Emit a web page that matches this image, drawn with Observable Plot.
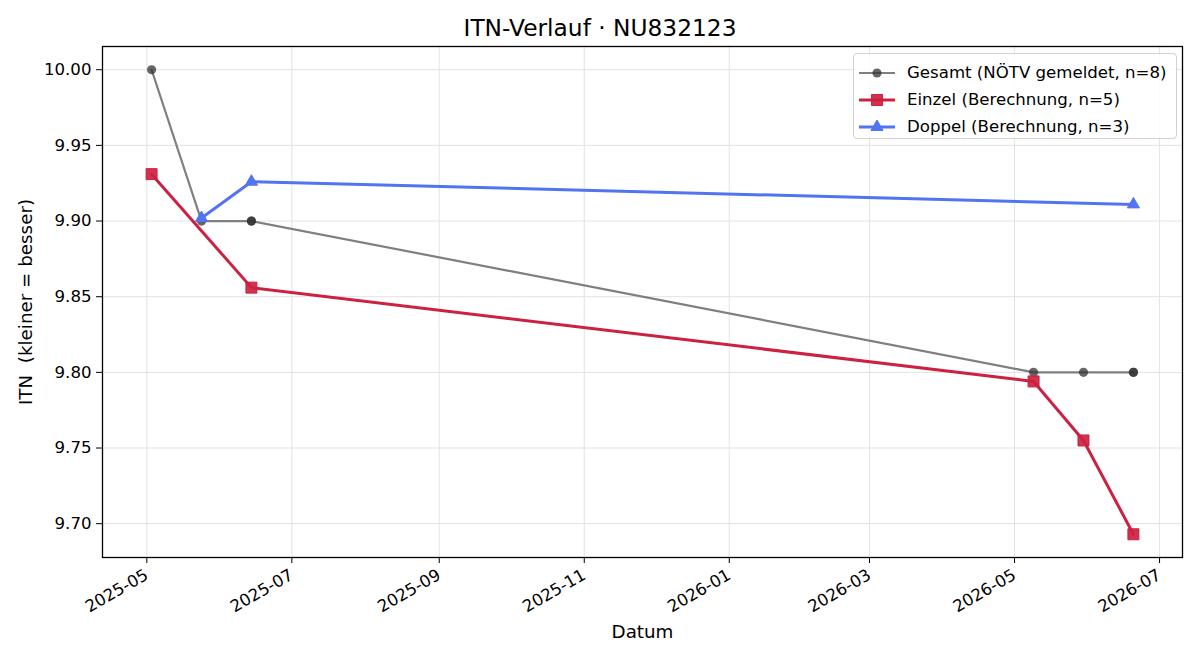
<!DOCTYPE html>
<html>
<head>
<meta charset="utf-8">
<script src="https://cdn.jsdelivr.net/npm/d3@7"></script>
<script src="https://cdn.jsdelivr.net/npm/@observablehq/plot@0.6"></script>
<style>
  html, body { margin: 0; padding: 0; background: #fff; }
  #wrap { position: relative; width: 1200px; height: 660px; font-family: "DejaVu Sans", sans-serif; }
  #title { height: 40px; box-sizing: border-box; padding-top: 16px; font-size: 23.3px; line-height: 23px; text-align: center; color: #000; }
  svg text { white-space: pre; }
  #legend { position: absolute; left: 853px; top: 53px; width: 324px; height: 86px; box-sizing: border-box;
            border: 1px solid #d0d0d0; border-radius: 4px; background: rgba(255,255,255,0.85); padding-top: 5px; }
  .row { display: flex; align-items: center; height: 27px; font-size: 16.6px; color: #000; }
  .row svg { margin-left: 5px; margin-right: 12px; }
</style>
</head>
<body>
<div id="wrap">
  <div id="title">ITN-Verlauf · NU832123</div>
  <div id="chart"></div>
  <div id="legend"></div>
</div>
<script>
// ITN values per tournament date
const gesamtDates = ["2025-05-03", "2025-05-24", "2025-06-14", "2025-06-14", "2026-05-09", "2026-05-30", "2026-06-20", "2026-06-20"];
const gesamtITN   = [10.00, 9.90, 9.90, 9.90, 9.80, 9.80, 9.80, 9.80];

const einzelDates = ["2025-05-03", "2025-06-14", "2026-05-09", "2026-05-30", "2026-06-20"];
const einzelITN   = [9.931, 9.856, 9.794, 9.755, 9.693];

const doppelDates = ["2025-05-24", "2025-06-14", "2026-06-20"];
const doppelITN   = [9.902, 9.926, 9.911];

const seriesNames = ["Gesamt (NÖTV gemeldet, n=8)", "Einzel (Berechnung, n=5)", "Doppel (Berechnung, n=3)"];

const xTickLabels = ["2025-05", "2025-07", "2025-09", "2025-11", "2026-01", "2026-03", "2026-05", "2026-07"];
const yTickValues = [9.70, 9.75, 9.80, 9.85, 9.90, 9.95, 10.00];

const parseDay = d3.utcParse("%Y-%m-%d");
const parseMonth = d3.utcParse("%Y-%m");

const toRows = (dates, vals) => dates.map((d, i) => ({date: parseDay(d), itn: vals[i]}));
const gesamt = toRows(gesamtDates, gesamtITN);
const einzel = toRows(einzelDates, einzelITN);
const doppel = toRows(doppelDates, doppelITN);
const xTicks = xTickLabels.map(parseMonth);

const colGray = "#7f7f7f", colRed = "#cc2140", colBlue = "#5274f0";
const rCircle = 4.6, rSquare = 6.2, rTriangle = 4.5;

// 5% padding around the data extent on both axes
const all = [...gesamt, ...einzel, ...doppel];
const [x0, x1] = d3.extent(all, d => +d.date);
const [y0, y1] = d3.extent(all, d => d.itn);
const px = (x1 - x0) * 0.05, py = (y1 - y0) * 0.05;

const chart = Plot.plot({
  width: 1200,
  height: 620,
  marginLeft: 102,
  marginRight: 18,
  marginTop: 6,
  marginBottom: 103,
  style: {fontFamily: "DejaVu Sans, sans-serif", fontSize: "16.6px", color: "#000", background: "#fff"},
  x: {type: "utc", domain: [new Date(x0 - px), new Date(x1 + px)]},
  y: {domain: [y0 - py, y1 + py]},
  marks: [
    Plot.gridX(xTicks, {stroke: "#e3e3e3", strokeOpacity: 1, strokeWidth: 1}),
    Plot.gridY(yTickValues, {stroke: "#e3e3e3", strokeOpacity: 1, strokeWidth: 1}),
    Plot.axisX({ticks: xTicks, tickFormat: d3.utcFormat("%Y-%m"), tickRotate: -30, tickSize: 6, tickPadding: 10, fontSize: 16.6, label: null, stroke: "#000"}),
    Plot.axisY({ticks: yTickValues, tickFormat: ".2f", tickSize: 6, tickPadding: 5, fontSize: 16.6, label: null, stroke: "#000"}),
    Plot.text(["Datum"], {frameAnchor: "bottom", dy: 80, fontSize: 18.3, fill: "#000"}),
    Plot.text(["ITN  (kleiner = besser)"], {frameAnchor: "left", dx: -76, rotate: -90, textAnchor: "middle", fontSize: 18.3, fill: "#000"}),

    Plot.line(gesamt, {x: "date", y: "itn", stroke: colGray, strokeWidth: 2.2}),
    Plot.dot(gesamt, {x: "date", y: "itn", r: rCircle, fill: "#333", fillOpacity: 0.75, stroke: "none"}),

    Plot.line(einzel, {x: "date", y: "itn", stroke: colRed, strokeWidth: 3}),
    Plot.dot(einzel, {x: "date", y: "itn", symbol: "square", r: rSquare, fill: colRed, fillOpacity: 0.92, stroke: colRed, strokeWidth: 1}),

    Plot.line(doppel, {x: "date", y: "itn", stroke: colBlue, strokeWidth: 3}),
    Plot.dot(doppel, {x: "date", y: "itn", symbol: "triangle", r: rTriangle, fill: colBlue, stroke: colBlue, strokeWidth: 1}),

    Plot.frame({stroke: "#000", strokeWidth: 1.3})
  ]
});
document.getElementById("chart").appendChild(chart);

// Legend rows: line swatch with marker, then label
const legendStyles = [
  {color: colGray, width: 2.2, marker: "circle", r: rCircle, fill: "#333", op: 0.75},
  {color: colRed, width: 3, marker: "square", r: rSquare, fill: colRed, op: 0.92},
  {color: colBlue, width: 3, marker: "triangle", r: rTriangle, fill: colBlue, op: 1}
];
const legend = d3.select("#legend");
seriesNames.forEach((name, i) => {
  const s = legendStyles[i];
  const row = legend.append("div").attr("class", "row");
  const sw = row.append("svg").attr("width", 36).attr("height", 16);
  sw.append("line").attr("x1", 0).attr("x2", 36).attr("y1", 8).attr("y2", 8)
    .attr("stroke", s.color).attr("stroke-width", s.width);
  const sym = {circle: d3.symbolCircle, square: d3.symbolSquare, triangle: d3.symbolTriangle}[s.marker];
  sw.append("path").attr("transform", "translate(18,8)")
    .attr("d", d3.symbol(sym, Math.PI * s.r * s.r)())
    .attr("fill", s.fill).attr("fill-opacity", s.op).attr("stroke", s.marker === "circle" ? "none" : s.color);
  row.append("span").text(name);
});
</script>
</body>
</html>
